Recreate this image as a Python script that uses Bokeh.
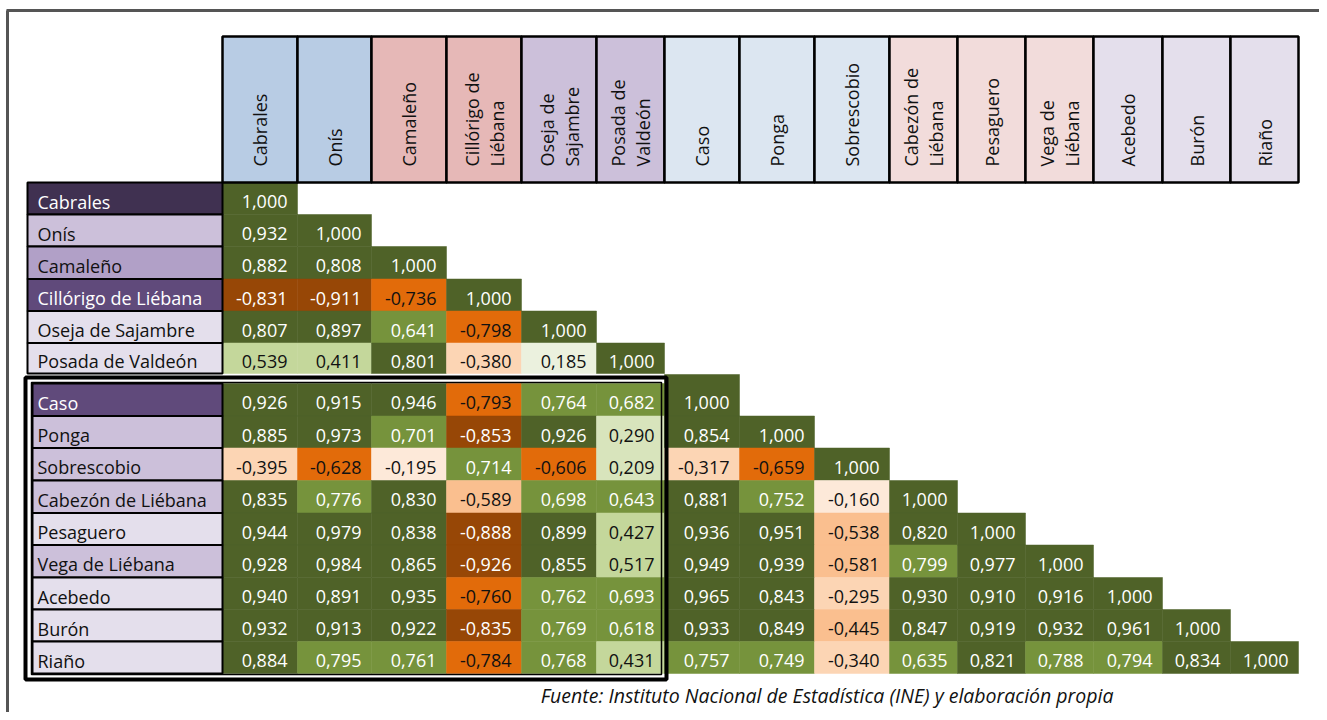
import math
from bokeh.plotting import figure
from bokeh.models import Range1d
from bokeh.core.properties import value
from bokeh.embed import file_html
from bokeh.resources import INLINE

# ---------------- data ----------------
municipios = ["Cabrales", "Onís", "Camaleño", "Cillórigo de Liébana", "Oseja de Sajambre",
              "Posada de Valdeón", "Caso", "Ponga", "Sobrescobio", "Cabezón de Liébana",
              "Pesaguero", "Vega de Liébana", "Acebedo", "Burón", "Riaño"]
column_headers = ["Cabrales", "Onís", "Camaleño", "Cillórigo de\nLiébana", "Oseja de\nSajambre",
                  "Posada de\nValdeón", "Caso", "Ponga", "Sobrescobio", "Cabezón de\nLiébana",
                  "Pesaguero", "Vega de\nLiébana", "Acebedo", "Burón", "Riaño"]

r_cabrales = [1.000]
r_onis = [0.932, 1.000]
r_camaleno = [0.882, 0.808, 1.000]
r_cillorigo = [-0.831, -0.911, -0.736, 1.000]
r_oseja = [0.807, 0.897, 0.641, -0.798, 1.000]
r_posada = [0.539, 0.411, 0.801, -0.380, 0.185, 1.000]
r_caso = [0.926, 0.915, 0.946, -0.793, 0.764, 0.682, 1.000]
r_ponga = [0.885, 0.973, 0.701, -0.853, 0.926, 0.290, 0.854, 1.000]
r_sobrescobio = [-0.395, -0.628, -0.195, 0.714, -0.606, 0.209, -0.317, -0.659, 1.000]
r_cabezon = [0.835, 0.776, 0.830, -0.589, 0.698, 0.643, 0.881, 0.752, -0.160, 1.000]
r_pesaguero = [0.944, 0.979, 0.838, -0.888, 0.899, 0.427, 0.936, 0.951, -0.538, 0.820, 1.000]
r_vega = [0.928, 0.984, 0.865, -0.926, 0.855, 0.517, 0.949, 0.939, -0.581, 0.799, 0.977, 1.000]
r_acebedo = [0.940, 0.891, 0.935, -0.760, 0.762, 0.693, 0.965, 0.843, -0.295, 0.930, 0.910, 0.916, 1.000]
r_buron = [0.932, 0.913, 0.922, -0.835, 0.769, 0.618, 0.933, 0.849, -0.445, 0.847, 0.919, 0.932, 0.961, 1.000]
r_riano = [0.884, 0.795, 0.761, -0.784, 0.768, 0.431, 0.757, 0.749, -0.340, 0.635, 0.821, 0.788, 0.794, 0.834, 1.000]

rows = [r_cabrales, r_onis, r_camaleno, r_cillorigo, r_oseja, r_posada, r_caso, r_ponga,
        r_sobrescobio, r_cabezon, r_pesaguero, r_vega, r_acebedo, r_buron, r_riano]

source_note = "Fuente: Instituto Nacional de Estadística (INE) y elaboración propia"

# ---------------- styles / layout ----------------
FONT = value("Open Sans")
header_colors = ["#B8CCE4", "#B8CCE4", "#E6B8B7", "#E6B8B7", "#CCC0DA", "#CCC0DA",
                 "#DCE6F1", "#DCE6F1", "#DCE6F1", "#F2DCDB", "#F2DCDB", "#F2DCDB",
                 "#E4DFEC", "#E4DFEC", "#E4DFEC"]
label_colors = ["#403151", "#CCC0DA", "#B1A0C7", "#604A7B", "#E4DFEC", "#E4DFEC",
                "#604A7B", "#CCC0DA", "#CCC0DA", "#CCC0DA", "#E4DFEC", "#CCC0DA",
                "#E4DFEC", "#E4DFEC", "#E4DFEC"]
dark_labels = {"#403151", "#604A7B"}

col_edges = [222, 297, 371, 446, 521, 596, 664, 739, 814, 889, 957, 1025, 1093, 1162, 1230, 1298]
upper_edges = [182, 214, 246, 278.5, 310.5, 342.5, 373]
box_edges = [383, 415.5, 447.5, 480, 512.5, 544.5, 577, 609, 641, 673]
HEAD_TOP, HEAD_BOTTOM = 36, 182


def row_span(i):
    if i < 6:
        return upper_edges[i], upper_edges[i + 1]
    return box_edges[i - 6], box_edges[i - 5]


def cell_style(v):
    if v >= 0.8:
        return "#4F6228", "white"
    if v >= 0.6:
        return "#76933C", "white"
    if v >= 0.4:
        return "#C4D79B", "#111111"
    if v >= 0.2:
        return "#D8E4BC", "#111111"
    if v >= 0:
        return "#EBF1DE", "#111111"
    if v > -0.2:
        return "#FDE9D9", "#111111"
    if v > -0.4:
        return "#FCD5B4", "#111111"
    if v > -0.6:
        return "#FABF8F", "#111111"
    if v > -0.8:
        return "#E26B0A", "#111111"
    return "#974706", "white"


p = figure(width=1319, height=712, x_range=Range1d(0, 1319), y_range=Range1d(712, 0),
           output_backend="svg", toolbar_location=None, min_border=0)
p.axis.visible = False
p.grid.visible = False
p.outline_line_color = None
p.background_fill_color = "white"

# outer frame (top and left visible)
p.segment(x0=[6, 7], y0=[10, 10], x1=[1319, 7], y1=[10, 712], line_color="#555555", line_width=3)

# ---- cells ----
cl, cr, ct, cb, cf, tx, ty, tt, tc = [], [], [], [], [], [], [], [], []
for i, vals in enumerate(rows):
    top, bot = row_span(i)
    for j, v in enumerate(vals):
        fill, txt = cell_style(v)
        cell_top = upper_edges[-1] + 1 if (i == 6 and j >= 6) else top
        cl.append(col_edges[j]); cr.append(col_edges[j + 1])
        ct.append(cell_top); cb.append(bot); cf.append(fill)
        tx.append(col_edges[j + 1] - 10); ty.append((top + bot) / 2 + 3)
        tt.append(f"{v:.3f}".replace(".", ",")); tc.append(txt)
p.quad(left=cl, right=cr, top=ct, bottom=cb, fill_color=cf, line_color=cf, line_width=0.5)
p.text(x=tx, y=ty, text=tt, text_color=tc, text_align="right", text_baseline="middle",
       text_font=FONT, text_font_size="18px")

# ---- row labels ----
ll, lr, lt, lb = [], [], [], []
lx, ly, ltxt, ltc = [], [], [], []
for i, name in enumerate(municipios):
    top, bot = row_span(i)
    ll.append(27 if i < 6 else 32); lr.append(222); lt.append(top); lb.append(bot)
    lx.append(37); ly.append((top + bot) / 2 + 3); ltxt.append(name)
    ltc.append("white" if label_colors[i] in dark_labels else "#111111")
p.quad(left=ll, right=lr, top=lt, bottom=lb, fill_color=label_colors, line_color="black", line_width=2)
p.text(x=lx, y=ly, text=ltxt, text_color=ltc, text_align="left", text_baseline="middle",
       text_font=FONT, text_font_size="18px")

# ---- column headers ----
p.quad(left=col_edges[:-1], right=col_edges[1:], top=[HEAD_TOP] * 15, bottom=[HEAD_BOTTOM] * 15,
       fill_color=header_colors, line_color="black", line_width=2.5)
hx, hy, ht = [], [], []
for j, h in enumerate(column_headers):
    center = (col_edges[j] + col_edges[j + 1]) / 2
    parts = h.split("\n")
    n = len(parts)
    for k, part in enumerate(parts):
        hx.append(center + (k - (n - 1) / 2) * 25)
        hy.append(166)
        ht.append(part)
p.text(x=hx, y=hy, text=ht, angle=math.pi / 2, text_color="#111111", text_align="left",
       text_baseline="middle", text_font=FONT, text_font_size="18px")

# ---- double box around the Asturias/León block ----
p.quad(left=[25], right=[666], top=[377], bottom=[679], fill_color=None, line_color="black", line_width=4)
p.quad(left=[31], right=[661], top=[382], bottom=[674], fill_color=None, line_color="black", line_width=1.5)

# ---- source note ----
p.text(x=[1113], y=[695], text=[source_note], text_align="right", text_baseline="middle",
       text_font=FONT, text_font_size="19.5px", text_font_style="italic", text_color="#111111")

open("out.html", "w").write(file_html(p, INLINE))
